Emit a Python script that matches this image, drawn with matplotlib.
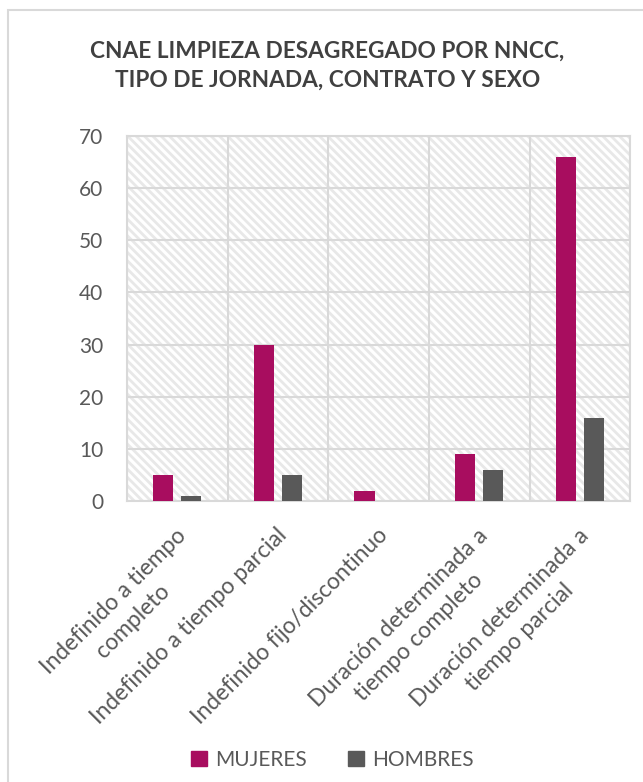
import numpy as np
import matplotlib
matplotlib.use('Agg')
import matplotlib.pyplot as plt
import matplotlib.transforms as mtransforms
from matplotlib.patches import Rectangle, Patch

# -------------------
# Data
# -------------------
categorias = [
    'Indefinido a tiempo\ncompleto',
    'Indefinido a tiempo parcial',
    'Indefinido fijo/discontinuo',
    'Duración determinada a\ntiempo completo',
    'Duración determinada a\ntiempo parcial',
]
mujeres = [5, 30, 2, 9, 66]
hombres = [1, 5, 0, 6, 16]
yticks = [0, 10, 20, 30, 40, 50, 60, 70]

titulo = 'CNAE LIMPIEZA DESAGREGADO POR NNCC,\nTIPO DE JORNADA, CONTRATO Y SEXO'

col_muj = '#A80D5F'
col_hom = '#595959'
gris_txt = '#595959'
gris_grid = '#D9D9D9'

plt.rcParams['font.family'] = ['Lato', 'DejaVu Sans']
plt.rcParams['hatch.linewidth'] = 2.0

# -------------------
# Figure
# -------------------
fig = plt.figure(figsize=(6.43, 7.82), dpi=100)
ax = fig.add_axes([0.1975, 0.3593, 0.7825, 0.4667])

# hatched plot background
ax.patch.set_facecolor('white')
ax.add_patch(Rectangle((0, 0), 1, 1, transform=ax.transAxes, facecolor='white',
                       edgecolor='#E8E8E8', linewidth=0, hatch='\\\\\\\\', zorder=0))

x = np.arange(len(categorias))
w = 0.2
ax.bar(x - 0.14, mujeres, w, color=col_muj, zorder=3, label='MUJERES')
ax.bar(x + 0.14, hombres, w, color=col_hom, zorder=3, label='HOMBRES')

ax.set_xlim(-0.5, len(categorias) - 0.5)
ax.set_ylim(0, 70)
ax.set_yticks(yticks)
ax.set_yticklabels([str(v) for v in yticks], fontsize=15, color=gris_txt)

# vertical grid at category boundaries
ax.set_xticks(np.arange(len(categorias) + 1) - 0.5, minor=True)
ax.grid(True, which='minor', axis='x', color=gris_grid, linewidth=1.5, zorder=1)
ax.grid(True, which='major', axis='y', color=gris_grid, linewidth=1.5, zorder=1)
ax.set_axisbelow(True)

ax.set_xticks(x)
ax.set_xticklabels(categorias, rotation=45, ha='right', va='top',
                   rotation_mode='anchor', multialignment='center',
                   fontsize=16.5, color=gris_txt, linespacing=1.4)
ax.tick_params(axis='both', which='both', length=0)
ax.tick_params(axis='x', pad=17)
ax.tick_params(axis='y', pad=17)
offset = mtransforms.ScaledTranslation(-2 / 100, 0, fig.dpi_scale_trans)
for lbl in ax.get_xticklabels():
    lbl.set_transform(lbl.get_transform() + offset)

for s in ax.spines.values():
    s.set_color(gris_grid)
    s.set_linewidth(1.5)

# title
fig.text(0.509, 0.9156, titulo, ha='center', va='center', fontsize=16.3,
         fontweight='bold', color='#404040', linespacing=1.45)

# legend
handles = [Patch(color=col_muj, label='MUJERES'), Patch(color=col_hom, label='HOMBRES')]
fig.legend(handles=handles, loc='center', bbox_to_anchor=(0.517, 1 - 760 / 782),
           ncol=2, frameon=False, fontsize=15, labelcolor=gris_txt,
           handlelength=0.75, handleheight=0.75, handletextpad=0.4, columnspacing=2.0)

# outer chart frame
fig.patches.append(Rectangle((8 / 643, -0.1), 1.2, 1.1 - 10 / 782,
                             transform=fig.transFigure, fill=False,
                             edgecolor=gris_grid, linewidth=1.5))

fig.savefig('out.png', dpi=100)
